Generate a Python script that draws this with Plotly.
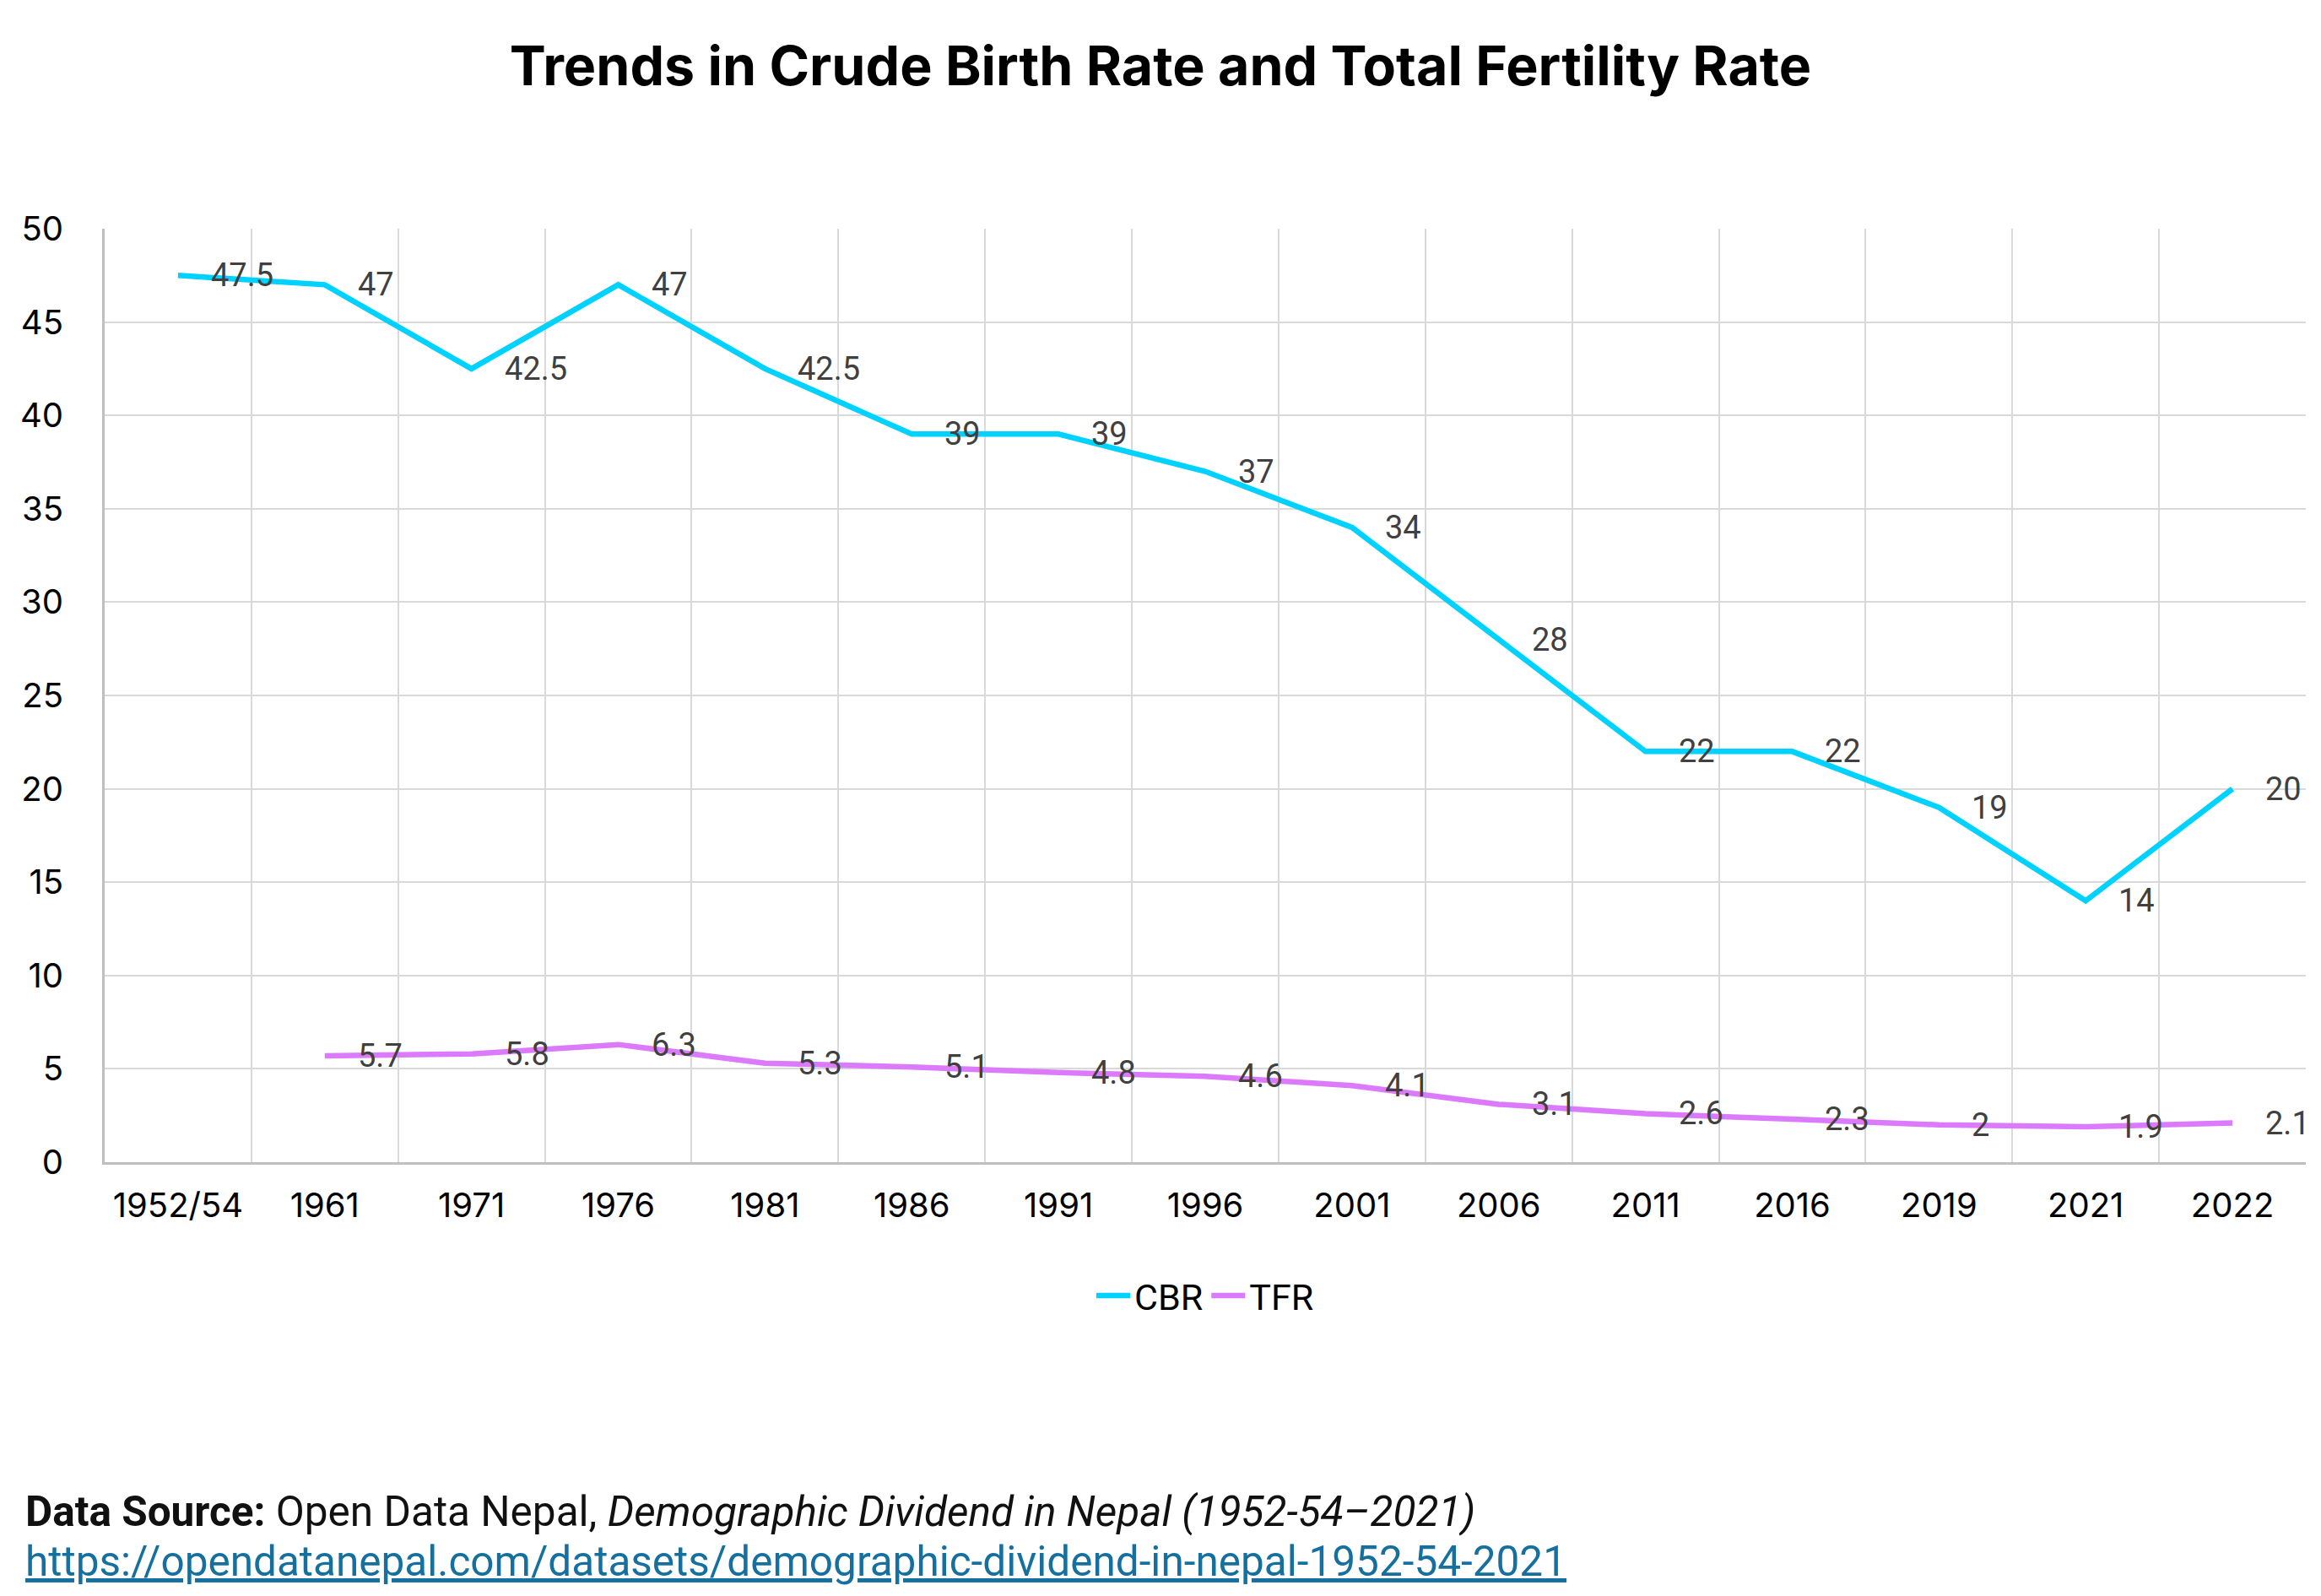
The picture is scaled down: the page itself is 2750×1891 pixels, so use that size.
import plotly.graph_objects as go

years = ["1952/54", "1961", "1971", "1976", "1981", "1986", "1991", "1996",
         "2001", "2006", "2011", "2016", "2019", "2021", "2022"]
cbr = [47.5, 47, 42.5, 47, 42.5, 39, 39, 37, 34, 28, 22, 22, 19, 14, 20]
tfr = [None, 5.7, 5.8, 6.3, 5.3, 5.1, 4.8, 4.6, 4.1, 3.1, 2.6, 2.3, 2, 1.9, 2.1]
y_ticks = [0, 5, 10, 15, 20, 25, 30, 35, 40, 45, 50]

CBR_COLOR = "#00D2FF"
TFR_COLOR = "#DC7AFC"
# page body has an 8px margin: the figure is sized/offset to fit the 2750x1891 window
W, H = 2734, 1875
ML, MR, MT, MB = 116, 10, 263, 506

fig = go.Figure()
fig.add_trace(go.Scatter(x=years, y=cbr, name="CBR", mode="lines",
                         line=dict(color=CBR_COLOR, width=6.5)))
fig.add_trace(go.Scatter(x=years, y=tfr, name="TFR", mode="lines",
                         line=dict(color=TFR_COLOR, width=6.5)))

annots = []
for series in (cbr, tfr):
    for i, v in enumerate(series):
        if v is None:
            continue
        annots.append(dict(x=i, y=v, xref="x", yref="y", text=f"{v:g}",
                           showarrow=False, xanchor="left", yanchor="middle",
                           xshift=37, font=dict(family="Roboto", size=38, color="#404040")))

pw = W - ML - MR
ph = H - MT - MB
annots.append(dict(xref="paper", yref="paper", x=(20 - ML) / pw, y=-(1783 - (H - MB)) / ph,
                   xanchor="left", yanchor="middle", showarrow=False, align="left",
                   text="<b>Data Source:</b> Open Data Nepal, <i>Demographic Dividend in Nepal (1952-54–2021)</i>",
                   font=dict(family="Roboto", size=49.5, color="#111111")))
annots.append(dict(xref="paper", yref="paper", x=(20 - ML) / pw, y=-(1842 - (H - MB)) / ph,
                   xanchor="left", yanchor="middle", showarrow=False, align="left",
                   text="<u>https://opendatanepal.com/datasets/demographic-dividend-in-nepal-1952-54-2021</u>",
                   font=dict(family="Roboto", size=49.5, color="#1570A0")))

fig.update_layout(
    width=W, height=H,
    margin=dict(l=ML, r=MR, t=MT, b=MB),
    paper_bgcolor="white", plot_bgcolor="white",
    title=dict(text="<b>Trends in Crude Birth Rate and Total Fertility Rate</b>",
               x=0.5, xref="container", xanchor="center",
               y=1 - 70 / H, yref="container", yanchor="middle",
               font=dict(family="Inter", size=64.5, color="#000000")),
    xaxis=dict(type="category", categoryorder="array", categoryarray=years,
               tickson="boundaries", showgrid=True, gridcolor="#D9D9D9", gridwidth=2,
               showline=True, linecolor="#BFBFBF", linewidth=3, ticks="",
               tickfont=dict(family="Inter", size=40, color="#000000"),
               ticklabelstandoff=14, range=[-0.5, len(years) - 0.5]),
    yaxis=dict(range=[0, 50], tickvals=y_ticks, showgrid=True, gridcolor="#D9D9D9",
               gridwidth=2, showline=True, linecolor="#BFBFBF", linewidth=3, ticks="",
               zeroline=False,
               tickfont=dict(family="Inter", size=40, color="#000000"),
               ticklabelstandoff=38),
    legend=dict(orientation="h", x=0.5, xanchor="center", y=-(1527 - (H - MB)) / ph,
                yanchor="middle", font=dict(family="Roboto", size=43, color="#000000"),
                itemwidth=40),
    annotations=annots,
    showlegend=True,
)

fig.write_html("out.html")
